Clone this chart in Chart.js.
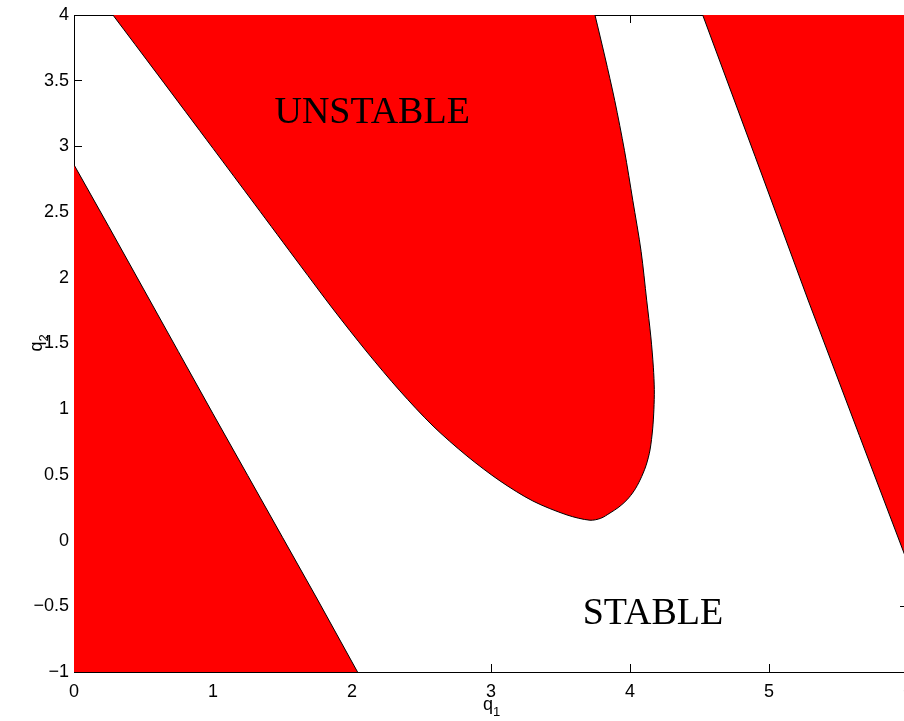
<!DOCTYPE html>
<html>
<head>
<meta charset="utf-8">
<script src="https://cdn.jsdelivr.net/npm/chart.js@4/dist/chart.umd.min.js"></script>
<style>
  html, body { margin: 0; padding: 0; background: #fff; overflow: hidden; }
  #grafico { display: block; }
</style>
</head>
<body>
<canvas id="grafico" width="960" height="721"></canvas>
<script>
// Fronteira da região instável inferior esquerda
const curvaAq1 = [0, 0.25, 0.5, 0.75, 1.0, 1.25, 1.5, 1.75, 2.04];
const curvaAq2 = [2.86, 2.39, 1.915, 1.44, 0.965, 0.495, 0.025, -0.445, -1.0];

// Fronteira em U (região instável central)
const curvaBq1 = [0.28, 0.6, 1.0, 1.3, 1.626, 1.863, 2.108, 2.345, 2.583, 2.827, 3.065, 3.302, 3.547, 3.712,
  3.79, 3.856, 3.92, 3.978, 4.03, 4.072, 4.115, 4.144, 4.163, 4.172, 4.175, 4.168, 4.15, 4.12, 4.08, 4.02, 3.96, 3.89, 3.82, 3.748];
const curvaBq2 = [4.0, 3.55, 2.985, 2.56, 2.097, 1.763, 1.435, 1.139, 0.872, 0.644, 0.454, 0.301, 0.195, 0.155,
  0.17, 0.21, 0.255, 0.31, 0.38, 0.46, 0.57, 0.69, 0.85, 1.0, 1.15, 1.32, 1.55, 1.83, 2.2, 2.59, 2.97, 3.35, 3.68, 4.0];

// Fronteira da região instável à direita
const curvaCq1 = [4.523, 4.9, 5.281, 5.65, 6.0];
const curvaCq2 = [4.0, 2.924, 1.831, 0.80, -0.175];

// Cantos que fecham cada região
const cantoA = [0, -1];
const cantoC = [6, 4];

// Textos sobre o gráfico
const textos = ['UNSTABLE', 'STABLE'];
const textosQ1 = [2.145, 4.165];
const textosQ2 = [3.18, -0.635];

// Eixos
const eixoX = [0, 6, 1];
const eixoY = [-1, 4, 0.5];

const vermelho = '#ff0000';

function pontos(xs, ys) {
  return xs.map((x, i) => ({ x: x, y: ys[i] }));
}

const regiaoA = pontos(curvaAq1, curvaAq2).concat([{ x: cantoA[0], y: cantoA[1] }]);
const regiaoB = pontos(curvaBq1, curvaBq2);
const regiaoC = pontos(curvaCq1, curvaCq2).concat([{ x: cantoC[0], y: cantoC[1] }]);

function regiao(dados, tensao) {
  return {
    data: dados,
    showLine: true,
    fill: 'shape',
    backgroundColor: vermelho,
    borderColor: 'transparent',
    borderWidth: 0,
    pointRadius: 0,
    tension: tensao,
    order: 2
  };
}

function curva(dados, tensao) {
  return {
    data: dados,
    showLine: true,
    fill: false,
    borderColor: '#000',
    borderWidth: 1,
    pointRadius: 0,
    tension: tensao,
    order: 1
  };
}

// Plugin para escrever UNSTABLE / STABLE e os nomes dos eixos (q com índice)
const pluginTextos = {
  id: 'textos',
  afterDatasetsDraw(chart) {
    const ctx = chart.ctx;
    const sx = chart.scales.x;
    const sy = chart.scales.y;
    const area = chart.chartArea;
    ctx.save();
    ctx.fillStyle = '#000';
    ctx.font = '38px "Liberation Serif", "Times New Roman", serif';
    ctx.textAlign = 'center';
    ctx.textBaseline = 'alphabetic';
    textos.forEach((t, i) => {
      ctx.fillText(t, sx.getPixelForValue(textosQ1[i]), sy.getPixelForValue(textosQ2[i]));
    });

    // q1 embaixo
    const fq = '18px "Liberation Sans", Arial, sans-serif';
    const fi = '13px "Liberation Sans", Arial, sans-serif';
    const cx = (area.left + area.right) / 2;
    ctx.textAlign = 'left';
    ctx.font = fq;
    const wq = ctx.measureText('q').width;
    ctx.fillText('q', cx - wq + 2, 710);
    ctx.font = fi;
    ctx.fillText('1', cx + 2, 716);

    // q2 à esquerda, girado
    ctx.translate(42, (area.top + area.bottom) / 2);
    ctx.rotate(-Math.PI / 2);
    ctx.font = fq;
    ctx.fillText('q', -wq + 2, 0);
    ctx.font = fi;
    ctx.fillText('2', 2, 6);
    ctx.restore();
  }
};

const fonteTicks = { family: '"Liberation Sans", Arial, sans-serif', size: 18 };

// Remove o espaço extra que o Chart.js reserva para os rótulos nas pontas
function semFolgaVertical(scale, largura) {
  scale.width = largura;
  scale.paddingTop = 0;
  scale.paddingBottom = 0;
}

const ctx = document.getElementById('grafico').getContext('2d');
new Chart(ctx, {
  type: 'scatter',
  data: {
    datasets: [
      curva(pontos(curvaAq1, curvaAq2), 0),
      curva(pontos(curvaBq1, curvaBq2), 0.3),
      curva(pontos(curvaCq1, curvaCq2), 0),
      regiao(regiaoA, 0),
      regiao(regiaoB, 0.3),
      regiao(regiaoC, 0)
    ]
  },
  options: {
    responsive: false,
    animation: false,
    events: [],
    layout: { padding: { top: 15, right: 52, left: 0, bottom: 0 } },
    plugins: {
      legend: { display: false },
      tooltip: { enabled: false },
      title: { display: false }
    },
    scales: {
      x: {
        type: 'linear',
        position: 'bottom',
        min: eixoX[0],
        max: eixoX[1],
        ticks: { stepSize: eixoX[2], color: '#000', font: fonteTicks, padding: 17, maxRotation: 0 },
        grid: { drawOnChartArea: false, drawTicks: true, tickLength: -8, color: '#000' },
        border: { display: true, color: '#000', width: 1 },
        afterFit(scale) { scale.height = 49; }
      },
      x2: {
        type: 'linear',
        position: 'top',
        min: eixoX[0],
        max: eixoX[1],
        ticks: { stepSize: eixoX[2], display: false },
        grid: { drawOnChartArea: false, drawTicks: true, tickLength: -8, color: '#000' },
        border: { display: true, color: '#000', width: 1 },
        afterFit(scale) { scale.height = 0; }
      },
      y: {
        type: 'linear',
        position: 'left',
        min: eixoY[0],
        max: eixoY[1],
        ticks: {
          stepSize: eixoY[2],
          color: '#000',
          font: fonteTicks,
          padding: 13,
          callback: v => v < 0 ? '\u2212' + Math.abs(v) : String(v)
        },
        grid: { drawOnChartArea: false, drawTicks: true, tickLength: -8, color: '#000' },
        border: { display: true, color: '#000', width: 1 },
        afterFit(scale) { semFolgaVertical(scale, 74); }
      },
      y2: {
        type: 'linear',
        position: 'right',
        min: eixoY[0],
        max: eixoY[1],
        ticks: { stepSize: eixoY[2], display: false },
        grid: { drawOnChartArea: false, drawTicks: true, tickLength: -8, color: '#000' },
        border: { display: true, color: '#000', width: 1 },
        afterFit(scale) { semFolgaVertical(scale, 0); }
      }
    }
  },
  plugins: [pluginTextos]
});
</script>
</body>
</html>
